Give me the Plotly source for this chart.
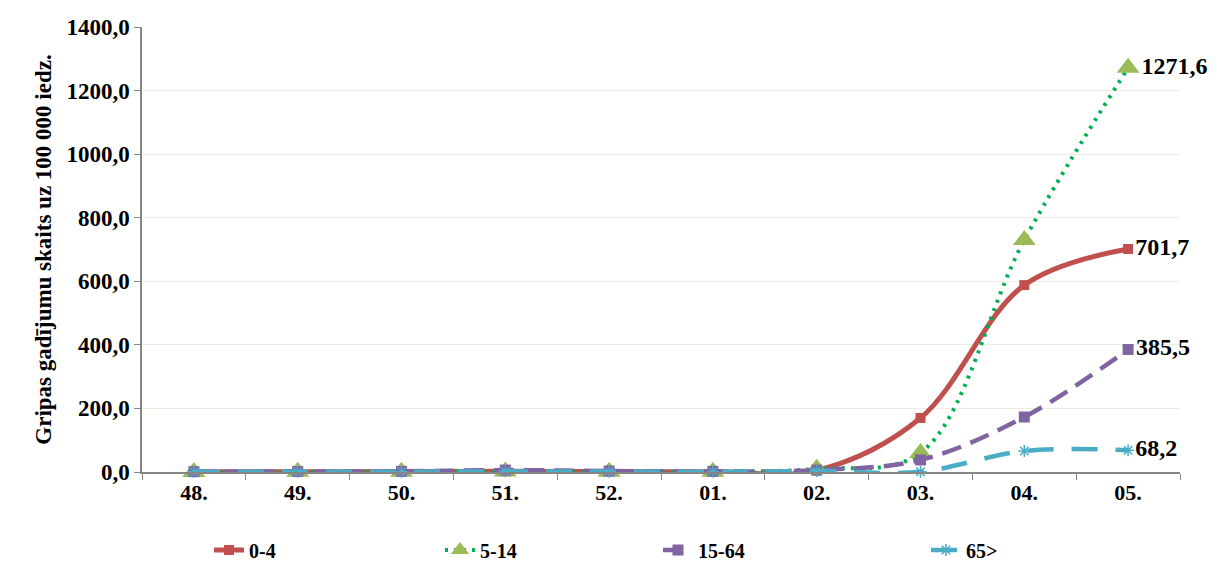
import plotly.graph_objects as go

weeks = ["48.", "49.", "50.", "51.", "52.", "01.", "02.", "03.", "04.", "05."]
age_0_4 = [0.5, 0.8, 1.2, 2.0, 1.5, 1.0, 5.0, 170.0, 588.0, 701.7]
age_5_14 = [0.3, 0.5, 0.8, 1.5, 1.0, 0.8, 10.0, 60.0, 730.0, 1271.6]
age_15_64 = [1.0, 1.5, 2.0, 6.0, 3.0, 2.0, 6.0, 38.0, 173.0, 385.5]
age_65 = [0.5, 0.5, 1.0, 2.0, 1.0, 0.5, 3.0, 1.0, 66.0, 68.2]
y_ticks = [0, 200, 400, 600, 800, 1000, 1200, 1400]

FONT = "Liberation Serif"
OFF = 8  # page body margin
W, H = 1219, 564
L, T = 142 - OFF, 27 - OFF
PW, PH = 1180 - 142, 472 - 27
R, B = W - L - PW, H - T - PH

def last_label(vals):
    return [""] * (len(vals) - 1) + [f"{vals[-1]:.1f}".replace(".", ",")]

series = [
    ("0-4", age_0_4, dict(color="#C0504D", width=5), dict(symbol="square", size=10, color="#C0504D"), 201),
    ("5-14", age_5_14, dict(color="#00B050", width=4, dash="3px,6px"), dict(symbol="triangle-up", size=20, color="#9BBB59"), 432),
    ("15-64", age_15_64, dict(color="#8064A2", width=4.5, dash="20px,10px"), dict(symbol="square", size=11, color="#8064A2"), 650),
    ("65>", age_65, dict(color="#4BACC6", width=4.5, dash="26px,18px"), dict(symbol="asterisk-open", size=10, line=dict(color="#4BACC6", width=1.5), color="#4BACC6"), 918),
]

fig = go.Figure()
legend_layouts = {}
for i, (name, vals, line, marker, lx) in enumerate(series):
    line = dict(line)
    line["shape"] = "spline"
    lg = "legend" if i == 0 else f"legend{i+1}"
    fig.add_trace(go.Scatter(
        x=weeks, y=vals, name=name, mode="lines+markers+text",
        line=line, marker=marker,
        text=last_label(vals), textposition="middle right",
        textfont=dict(family=FONT, size=24, color="black", weight="bold"),
        cliponaxis=False, legend=lg,
    ))
    legend_layouts[lg] = dict(
        orientation="h", x=(lx - L) / PW, y=(T + PH - (550 - OFF)) / PH,
        xanchor="left", yanchor="middle", bgcolor="rgba(0,0,0,0)",
        font=dict(family=FONT, size=20, color="black", weight="bold"),
    )

fig.update_layout(
    width=W, height=H,
    margin=dict(l=L, r=R, t=T, b=B, autoexpand=False),
    paper_bgcolor="white", plot_bgcolor="white",
    separators=", ",
    font=dict(family=FONT, color="black"),
    showlegend=True,
    xaxis=dict(type="category", showline=True, linecolor="#868686", linewidth=1.5,
               ticks="outside", tickson="boundaries", ticklen=6, tickcolor="#868686",
               tickfont=dict(family=FONT, size=22, weight="bold"), showgrid=False,
               range=[-0.5, 9.5], automargin=False),
    yaxis=dict(range=[0, 1400], tickvals=y_ticks, tickformat=".1f",
               showline=True, linecolor="#868686", linewidth=1.5,
               ticks="outside", ticklen=6, tickcolor="#868686",
               gridcolor="#EEECE1", gridwidth=1.2, zeroline=False, automargin=False,
               tickfont=dict(family=FONT, size=23, weight="bold"),
               title=dict(text="Gripas gadījumu skaits uz 100 000 iedz.",
                          font=dict(family=FONT, size=23, weight="bold"), standoff=8)),
    **legend_layouts,
)

fig.write_html("out.html")
